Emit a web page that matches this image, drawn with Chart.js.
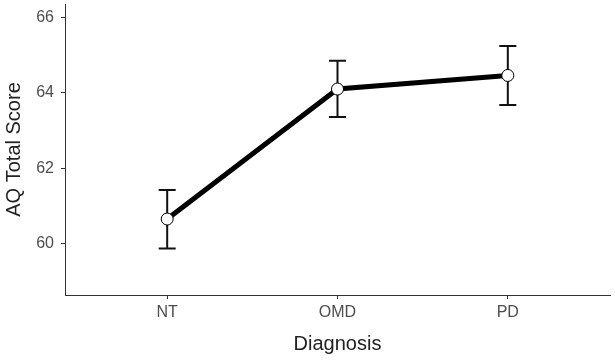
<!DOCTYPE html>
<html>
<head>
<meta charset="utf-8">
<script src="https://cdn.jsdelivr.net/npm/chart.js@4"></script>
<style>
html,body{margin:0;padding:0;background:#fff;}
#wrap{width:615px;height:360px;}
</style>
</head>
<body>
<div id="wrap"><canvas id="c" width="615" height="360"></canvas></div>
<script>
const categories = ['NT', 'OMD', 'PD'];
const meanScores = [60.66, 64.1, 64.46];
const lowerBounds = [59.88, 63.36, 63.68];
const upperBounds = [61.43, 64.85, 65.24];
const yTickValues = [60, 62, 64, 66];

const errorBars = {
  id: 'errorBars',
  beforeDatasetsDraw(chart) {
    const ctx = chart.ctx, xs = chart.scales.x, ys = chart.scales.y;
    ctx.save();
    ctx.strokeStyle = '#111';
    ctx.lineWidth = 2;
    categories.forEach((c, i) => {
      const x = xs.getPixelForValue(i);
      const yl = ys.getPixelForValue(lowerBounds[i]);
      const yu = ys.getPixelForValue(upperBounds[i]);
      const hw = 8.5;
      ctx.beginPath();
      ctx.moveTo(x, yl); ctx.lineTo(x, yu);
      ctx.moveTo(x - hw, yl); ctx.lineTo(x + hw, yl);
      ctx.moveTo(x - hw, yu); ctx.lineTo(x + hw, yu);
      ctx.stroke();
    });
    ctx.restore();
  }
};

new Chart(document.getElementById('c'), {
  type: 'line',
  data: {
    datasets: [{
      data: categories.map((c, i) => ({x: i, y: meanScores[i]})),
      borderColor: '#000',
      borderWidth: 5,
      pointRadius: 6,
      pointBackgroundColor: '#fff',
      pointBorderColor: '#000',
      pointBorderWidth: 1,
      tension: 0
    }]
  },
  options: {
    responsive: false,
    animation: false,
    layout: {autoPadding: false, padding: {top: 4, right: 5, left: 0, bottom: 0}},
    plugins: {legend: {display: false}, tooltip: {enabled: false}},
    scales: {
      x: {
        type: 'linear',
        min: -0.6, max: 2.6,
        afterBuildTicks(s) { s.ticks = categories.map((c, i) => ({value: i})); },
        afterFit(s) { s.height = 65; s.paddingLeft = 0; s.paddingRight = 0; },
        ticks: {
          callback: (v) => categories[v],
          color: '#4d4d4d',
          font: {family: 'Liberation Sans', size: 16},
          padding: 4,
          maxRotation: 0
        },
        grid: {drawOnChartArea: false, drawTicks: true, tickLength: 4, color: '#333'},
        border: {display: true, color: '#333', width: 1},
        title: {display: true, text: 'Diagnosis', color: '#222', font: {family: 'Liberation Sans', size: 20}, padding: {top: 0, bottom: 4}}
      },
      y: {
        type: 'linear',
        min: 58.65, max: 66.35,
        afterBuildTicks(s) { s.ticks = yTickValues.map(v => ({value: v})); },
        afterFit(s) { s.width = 65; s.paddingTop = 0; s.paddingBottom = 0; },
        ticks: {
          color: '#4d4d4d',
          font: {family: 'Liberation Sans', size: 16},
          padding: 7
        },
        grid: {drawOnChartArea: false, drawTicks: true, tickLength: 4, color: '#333'},
        border: {display: true, color: '#333', width: 1},
        title: {display: true, text: 'AQ Total Score', color: '#222', font: {family: 'Liberation Sans', size: 20}, padding: {top: 2, bottom: 0}}
      }
    }
  },
  plugins: [errorBars]
});
</script>
</body>
</html>
